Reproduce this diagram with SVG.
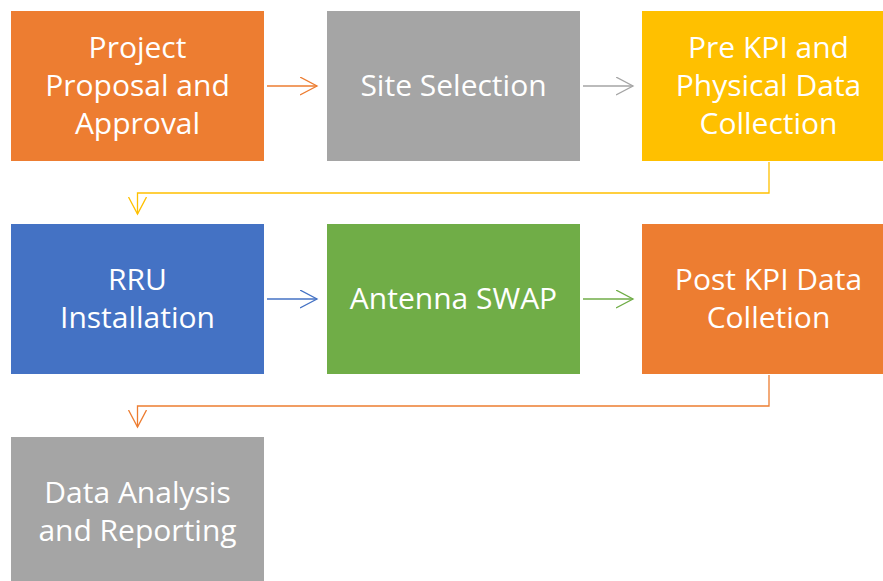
<svg xmlns="http://www.w3.org/2000/svg" width="883" height="581" viewBox="0 0 883 581">
<style>
.t{font-family:"Open Sans","Liberation Sans",sans-serif;font-size:30px;fill:#fff;text-anchor:middle}
.c{fill:none;stroke-width:1.3}
</style>
<defs>
<marker id="mo" markerWidth="20" markerHeight="20" refX="17" refY="9" orient="auto" markerUnits="userSpaceOnUse"><path d="M0,0 L17,9 L0,18" fill="none" stroke="#ED7D31" stroke-width="1.3"/></marker>
<marker id="mg" markerWidth="20" markerHeight="20" refX="17" refY="9" orient="auto" markerUnits="userSpaceOnUse"><path d="M0,0 L17,9 L0,18" fill="none" stroke="#A5A5A5" stroke-width="1.3"/></marker>
<marker id="my" markerWidth="20" markerHeight="20" refX="17" refY="9" orient="auto" markerUnits="userSpaceOnUse"><path d="M0,0 L17,9 L0,18" fill="none" stroke="#FFC000" stroke-width="1.3"/></marker>
<marker id="mb" markerWidth="20" markerHeight="20" refX="17" refY="9" orient="auto" markerUnits="userSpaceOnUse"><path d="M0,0 L17,9 L0,18" fill="none" stroke="#4472C4" stroke-width="1.3"/></marker>
<marker id="mgr" markerWidth="20" markerHeight="20" refX="17" refY="9" orient="auto" markerUnits="userSpaceOnUse"><path d="M0,0 L17,9 L0,18" fill="none" stroke="#70AD47" stroke-width="1.3"/></marker>
</defs>
<rect width="883" height="581" fill="#fff"/>
<g id="connectors">
<line class="c" x1="267" y1="86" x2="317" y2="86" stroke="#ED7D31" marker-end="url(#mo)"/>
<line class="c" x1="583" y1="86" x2="633" y2="86" stroke="#A5A5A5" marker-end="url(#mg)"/>
<polyline class="c" points="769,162 769,193 137.5,193 137.5,214" stroke="#FFC000" marker-end="url(#my)"/>
<line class="c" x1="267" y1="299" x2="317" y2="299" stroke="#4472C4" marker-end="url(#mb)"/>
<line class="c" x1="583" y1="299" x2="633" y2="299" stroke="#70AD47" marker-end="url(#mgr)"/>
<polyline class="c" points="769,375 769,406 137.5,406 137.5,427" stroke="#ED7D31" marker-end="url(#mo)"/>
</g>
<g id="n1"><rect x="11" y="11" width="253" height="150" fill="#ED7D31"/>
<text class="t" x="137.5" y="58">Project</text><text class="t" x="137.5" y="96">Proposal and</text><text class="t" x="137.5" y="134">Approval</text></g>
<g id="n2"><rect x="327" y="11" width="253" height="150" fill="#A5A5A5"/>
<text class="t" x="453.5" y="96">Site Selection</text></g>
<g id="n3"><rect x="642" y="11" width="253" height="150" fill="#FFC000"/>
<text class="t" x="768.5" y="58">Pre KPI and</text><text class="t" x="768.5" y="96">Physical Data</text><text class="t" x="768.5" y="134">Collection</text></g>
<g id="n4"><rect x="11" y="224" width="253" height="150" fill="#4472C4"/>
<text class="t" x="137.5" y="290">RRU</text><text class="t" x="137.5" y="328">Installation</text></g>
<g id="n5"><rect x="327" y="224" width="253" height="150" fill="#70AD47"/>
<text class="t" x="453.5" y="309">Antenna SWAP</text></g>
<g id="n6"><rect x="642" y="224" width="253" height="150" fill="#ED7D31"/>
<text class="t" x="768.5" y="290">Post KPI Data</text><text class="t" x="768.5" y="328">Colletion</text></g>
<g id="n7"><rect x="11" y="437" width="253" height="150" fill="#A5A5A5"/>
<text class="t" x="137.5" y="503">Data Analysis</text><text class="t" x="137.5" y="541">and Reporting</text></g>
</svg>
